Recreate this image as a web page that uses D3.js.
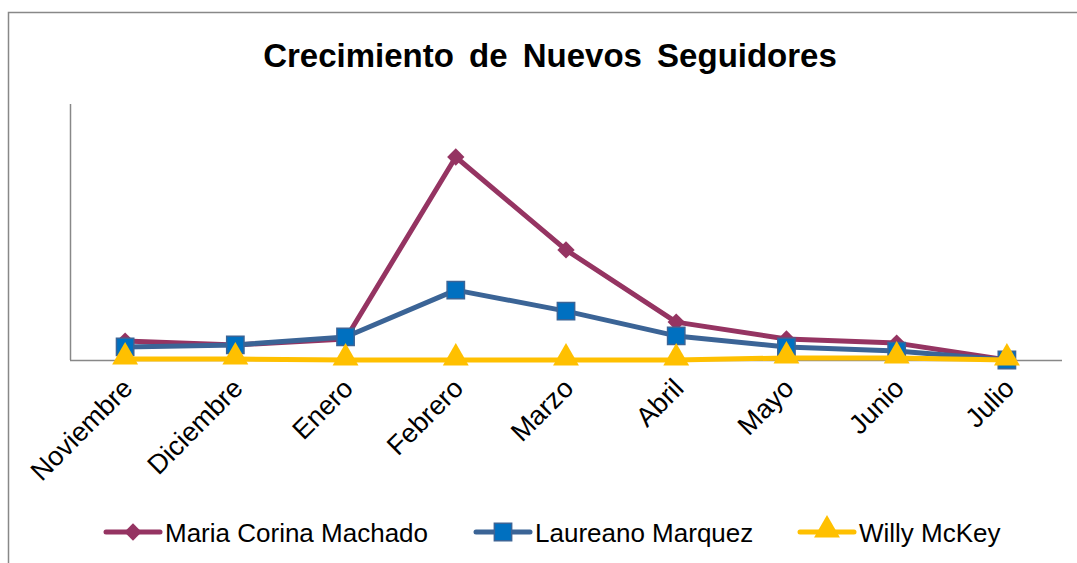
<!DOCTYPE html>
<html>
<head>
<meta charset="utf-8">
<script src="https://cdn.jsdelivr.net/npm/d3@7"></script>
<style>
  body { margin: 0; background: #fff; }
  svg { display: block; font-family: "Liberation Sans", Arial, sans-serif; }
</style>
</head>
<body>
<script>
// months on the x axis
let months = ["Noviembre", "Diciembre", "Enero", "Febrero", "Marzo", "Abril", "Mayo", "Junio", "Julio"];

// new followers per month (no y labels in original)
let machado = [74, 59, 82, 793, 430, 148, 82, 66, 0];
let marquez = [51, 59, 90, 273, 191, 94, 51, 35, 0];
let mckey = [4, 4, 0, 0, 0, 0, 8, 8, 0];

let seriesNames = ["Maria Corina Machado", "Laureano Marquez", "Willy McKey"];

let w = 1077;
let h = 563;

let svg = d3.select("body")
    .append("svg")
    .attr("width", w)
    .attr("height", h);

// outer chart frame
svg.append("rect")
    .attr("x", 8.5)
    .attr("y", 12.5)
    .attr("width", w + 20)
    .attr("height", h + 20)
    .attr("fill", "none")
    .attr("stroke", "#888")
    .attr("stroke-width", 1.5);

let plotLeft = 70, plotRight = 1062, plotTop = 104, plotBottom = 360;

let xScale = d3.scaleBand()
    .domain(months)
    .range([plotLeft, plotRight]);

let yScale = d3.scaleLinear()
    .domain([0, 1000])
    .range([plotBottom, plotTop]);

let cx = function(m) { return xScale(m) + xScale.bandwidth() / 2; };

// title
svg.append("text")
    .attr("x", 550)
    .attr("y", 67)
    .attr("text-anchor", "middle")
    .attr("font-size", "33px")
    .attr("font-weight", "bold")
    .attr("word-spacing", "6px")
    .attr("fill", "#000")
    .text("Crecimiento de Nuevos Seguidores");

// axes (plain lines, no ticks)
svg.append("line")
    .attr("x1", plotLeft + 0.5).attr("x2", plotLeft + 0.5)
    .attr("y1", plotTop).attr("y2", plotBottom)
    .attr("stroke", "#888").attr("stroke-width", 1.5);

svg.append("line")
    .attr("x1", plotLeft).attr("x2", plotRight)
    .attr("y1", plotBottom + 0.5).attr("y2", plotBottom + 0.5)
    .attr("stroke", "#888").attr("stroke-width", 1.5);

// rotated month labels
svg.selectAll("text.month")
    .data(months)
    .enter()
    .append("text")
    .attr("class", "month")
    .attr("text-anchor", "end")
    .attr("font-size", "27px")
    .attr("fill", "#000")
    .attr("transform", function(d) {
        return "translate(" + (cx(d) + 9) + "," + 390 + ") rotate(-45)";
    })
    .text(function(d) { return d; });

let series = [
    { name: seriesNames[0], values: machado, line: "#953462", fill: "#953462", marker: "diamond" },
    { name: seriesNames[1], values: marquez, line: "#3B6496", fill: "#0070C0", marker: "square" },
    { name: seriesNames[2], values: mckey, line: "#FFC000", fill: "#FFC000", marker: "triangle" }
];

let symbols = {
    diamond: d3.symbol().type(d3.symbolSquare).size(150),
    square: d3.symbol().type(d3.symbolSquare).size(300),
    triangle: d3.symbol().type(d3.symbolTriangle).size(290)
};

let lineGen = d3.line()
    .x(function(d, i) { return cx(months[i]); })
    .y(function(d) { return yScale(d); });

function drawMarker(g, s, x, y) {
    let p = g.append("path")
        .attr("d", symbols[s.marker]())
        .attr("fill", s.fill);
    if (s.marker === "diamond") {
        p.attr("transform", "translate(" + x + "," + y + ") rotate(45)");
    } else if (s.marker === "triangle") {
        p.attr("transform", "translate(" + x + "," + (y - 2) + ")");
    } else {
        p.attr("transform", "translate(" + x + "," + y + ")")
            .attr("stroke", s.line).attr("stroke-width", 1.5);
    }
}

series.forEach(function(s) {
    svg.append("path")
        .datum(s.values)
        .attr("d", lineGen)
        .attr("fill", "none")
        .attr("stroke", s.line)
        .attr("stroke-width", 5)
        .attr("stroke-linejoin", "round");

    let g = svg.append("g");
    s.values.forEach(function(v, i) {
        drawMarker(g, s, cx(months[i]), yScale(v));
    });
});

// legend
let legendX = [106, 476, 800];
let legendY = 532;
series.forEach(function(s, i) {
    let g = svg.append("g");
    g.append("line")
        .attr("x1", legendX[i]).attr("x2", legendX[i] + 54)
        .attr("y1", legendY).attr("y2", legendY)
        .attr("stroke", s.line)
        .attr("stroke-width", 5)
        .attr("stroke-linecap", "round");
    drawMarker(g, s, legendX[i] + 27, legendY);
    g.append("text")
        .attr("x", legendX[i] + 59)
        .attr("y", legendY + 10)
        .attr("font-size", "26px")
        .attr("fill", "#000")
        .text(s.name);
});
</script>
</body>
</html>
